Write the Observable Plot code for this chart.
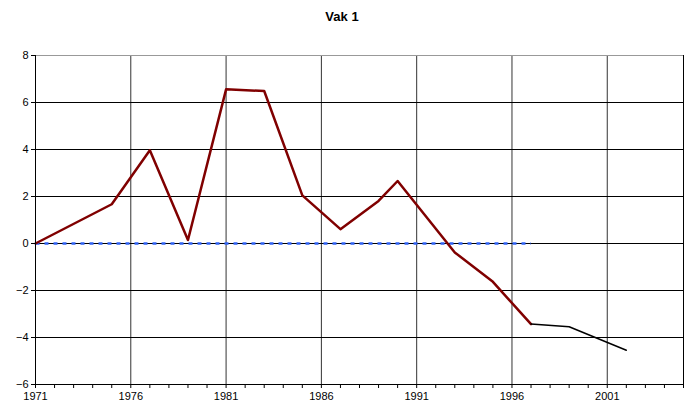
<!DOCTYPE html>
<html><head><meta charset="utf-8">
<script src="https://cdn.jsdelivr.net/npm/d3@7"></script>
<script src="https://cdn.jsdelivr.net/npm/@observablehq/plot@0.6"></script>
<style>
body{margin:0;background:#fff;font-family:"Liberation Sans",Arial,sans-serif;}
#title{height:30px;line-height:34px;text-align:center;font-weight:bold;font-size:13px;color:#000;width:684px;}
</style></head>
<body>
<div id="title">Vak 1</div>
<div id="chart"></div>
<script>
const redYears = [1971, 1975, 1977, 1979, 1981, 1983, 1985, 1987, 1989, 1990, 1993, 1995, 1997];
const redValues = [0, 1.67, 3.97, 0.15, 6.56, 6.49, 2.05, 0.61, 1.81, 2.66, -0.38, -1.63, -3.43];
const blackYears = [1997, 1999, 2002];
const blackValues = [-3.43, -3.54, -4.54];
const baselineYears = [1971, 1997];
const baselineValues = [0, 0];
const yTicks = [-6, -4, -2, 0, 2, 4, 6, 8];
const xLabelYears = [1971, 1976, 1981, 1986, 1991, 1996, 2001];
const xMinorYears = d3.range(1971, 2006);

const red = redYears.map((x, i) => ({x, y: redValues[i]}));
const black = blackYears.map((x, i) => ({x, y: blackValues[i]}));
const base = baselineYears.map((x, i) => ({x, y: baselineValues[i]}));

const chart = Plot.plot({
  width: 684,
  height: 375,
  marginTop: 25,
  marginBottom: 21,
  marginLeft: 35,
  marginRight: 1,
  style: {fontFamily: "Liberation Sans, Arial, sans-serif", fontSize: "11px", color: "#000", background: "#fff"},
  x: {domain: [1971, 2005]},
  y: {domain: [-6, 8]},
  marks: [
    Plot.gridX(xLabelYears.filter(d => d > 1971), {stroke: "#333", strokeOpacity: 1, strokeWidth: 1}),
    Plot.gridY(yTicks, {stroke: "#000", strokeOpacity: 1, strokeWidth: 1}),
    Plot.ruleX([2005], {stroke: "#000"}),
    Plot.ruleY([8], {stroke: "#999"}),
    Plot.line(base, {x: "x", y: "y", stroke: "#2f62f5", strokeWidth: 2.5, strokeDasharray: "4,5", strokeLinecap: "butt"}),
    Plot.line(red, {x: "x", y: "y", stroke: "#800000", strokeWidth: 2.5}),
    Plot.line(black, {x: "x", y: "y", stroke: "#000", strokeWidth: 1.5}),
    Plot.axisY({ticks: yTicks, tickSize: 4, tickPadding: 3, label: null, fontSize: 11}),
    Plot.ruleX([1971], {stroke: "#000"}),
    Plot.axisX({ticks: xMinorYears, tickSize: 4, tickPadding: 4, label: null, fontSize: 11,
      tickFormat: d => xLabelYears.includes(d) ? String(d) : ""}),
    Plot.ruleY([-6], {stroke: "#000"})
  ]
});
document.getElementById("chart").appendChild(chart);
</script>
</body></html>
